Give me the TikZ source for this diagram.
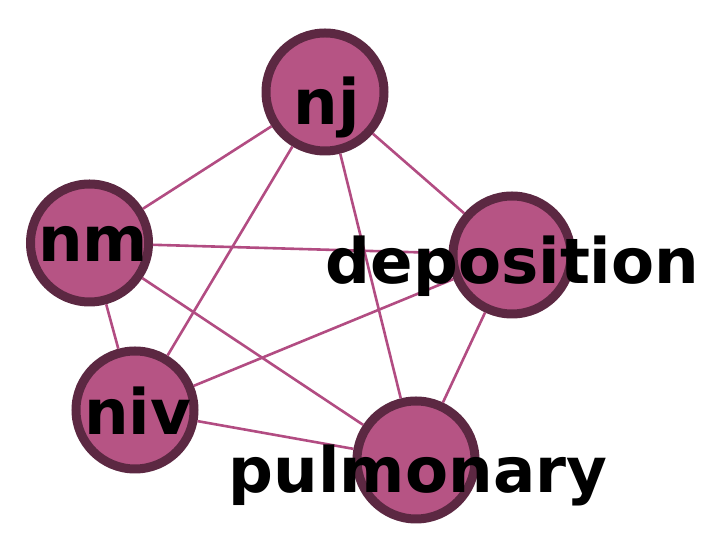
\documentclass[tikz,border=0pt]{standalone}
\usepackage{fontspec}
\setmainfont{DejaVu Sans}
\usepackage{tikz}
\usetikzlibrary{positioning}
\usepackage{xcolor}
\definecolor{nodeFill}{RGB}{182, 84, 132}
\definecolor{nodeRim}{RGB}{92, 40, 66}
\definecolor{linkCol}{RGB}{178, 76, 130}

\begin{document}
\begin{tikzpicture}[x=1pt, y=1pt,
    term/.style={circle, draw=nodeRim, fill=nodeFill, line width=9pt, minimum size=118pt, inner sep=0pt},
    link/.style={linkCol, line width=2.6pt},
    word/.style={anchor=base, inner sep=0pt, font=\fontsize{62.7}{62.7}\selectfont\bfseries}]
  \useasboundingbox (0,0) rectangle (724,551);

  % the terms
  \node[term] (nj) at (325,459) {};
  \node[term] (nm) at (89.5,308) {};
  \node[term] (dep) at (512,296) {};
  \node[term] (niv) at (135,141) {};
  \node[term] (pul) at (416,91) {};

  % co-occurrence links
  \draw[link] (nj) -- (nm);
  \draw[link] (nj) -- (dep);
  \draw[link] (nj) -- (niv);
  \draw[link] (nj) -- (pul);
  \draw[link] (nm) -- (dep);
  \draw[link] (nm) -- (niv);
  \draw[link] (nm) -- (pul);
  \draw[link] (niv) -- (dep);
  \draw[link] (niv) -- (pul);
  \draw[link] (dep) -- (pul);

  % labels
  \node[word] (njtxt) at (327,426) {nj};
  \node[word] (nmtxt) at (93,289) {nm};
  \node[word] (deptxt) at (512.5,267) {deposition};
  \node[word] (nivtxt) at (137.5,116) {niv};
  \node[word] (pultxt) at (418,58) {pulmonary};
\end{tikzpicture}
\end{document}
